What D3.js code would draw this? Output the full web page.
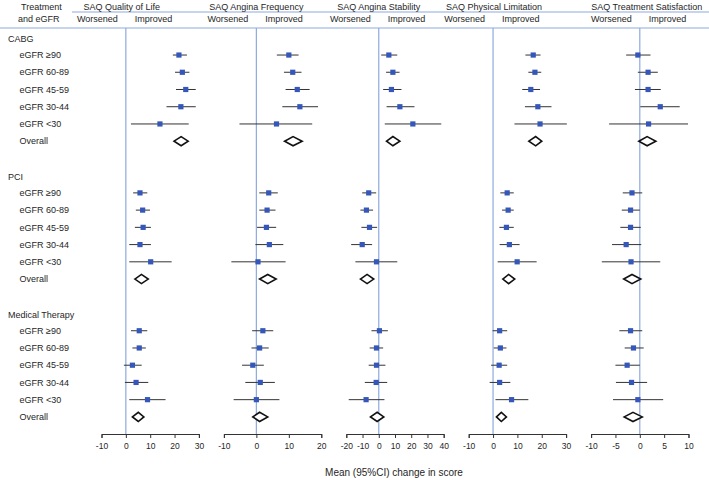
<!DOCTYPE html>
<html>
<head>
<meta charset="utf-8">
<script src="https://cdn.jsdelivr.net/npm/d3@7"></script>
<style>
	body { margin: 0; background: #fff; }
	svg text { font-family: 'Liberation Sans', Arial, sans-serif; fill: #262626; }
</style>
</head>
<body>
<svg id="chart" width="709" height="480"></svg>
<script>
// rows, top to bottom
const groups = ['CABG', 'PCI', 'Medical Therapy'];
const subRows = ['eGFR ≥90', 'eGFR 60-89', 'eGFR 45-59', 'eGFR 30-44', 'eGFR <30', 'Overall'];

const outcomes = [
	'SAQ Quality of Life',
	'SAQ Angina Frequency',
	'SAQ Angina Stability',
	'SAQ Physical Limitation',
	'SAQ Treatment Satisfaction',
];
const domains = [[-10, 30], [-10, 20], [-20, 40], [-10, 30], [-10, 10]];
const tickValues = [
	[-10, 0, 10, 20, 30],
	[-10, 0, 10, 20],
	[-20, -10, 0, 10, 20, 30, 40],
	[-10, 0, 10, 20, 30],
	[-10, -5, 0, 5, 10],
];

// [mean, lower, upper] : CABG x6, PCI x6, Medical Therapy x6 (last of each = Overall)
const qualityOfLife = [
	[21.8, 19.3, 25.1], [23.2, 20.2, 26.1], [24.6, 20.6, 28.7], [22.6, 16.7, 28.7], [14, 2.1, 25.8], [22.7, 19.8, 25.6],
	[5.8, 3, 8.8], [6.9, 4.1, 9.9], [7.1, 3.7, 10.3], [5.8, 1.4, 10.3], [10.2, 1.4, 18.8], [6.4, 3.7, 9.2],
	[5.5, 2.1, 8.8], [5.5, 2.7, 8.2], [2.7, -0.8, 6.5], [4.2, -0.4, 9.2], [8.9, 1.4, 16.3], [5.1, 2.7, 7.4],
];
const anginaFrequency = [
	[10, 6.3, 13], [11.2, 8.5, 13.9], [12.6, 9, 16.4], [13.4, 8, 19], [6.2, -5.2, 17.2], [11.3, 8.7, 14.1],
	[3.8, 0.9, 6.6], [3.3, 0.9, 5.9], [3.1, 0.2, 6.1], [4, -0.3, 8.3], [0.5, -7.7, 9], [3.5, 1, 6.1],
	[2, -1.3, 5.2], [1, -1.5, 3.8], [-1.1, -4.4, 2.3], [1.2, -3.4, 5.7], [0, -7, 7.1], [1, -1.1, 3.5],
];
const anginaStability = [
	[6.2, 1.5, 11.4], [8.7, 4.5, 12.8], [7.8, 2.7, 14], [13, 4.8, 22], [21, 3.7, 38.5], [8.7, 4.8, 13],
	[-6.2, -10.2, -1.6], [-7.6, -11.3, -3.5], [-5.7, -10.7, -1], [-10.2, -17, -4.1], [-1.4, -14.4, 11.4], [-7.2, -11.3, -3.1],
	[0.4, -4.5, 5.6], [-1.4, -5.6, 2.7], [-1.4, -6.2, 4.1], [-1.6, -8.6, 5.2], [-7.8, -18.5, 3.5], [-1, -5.1, 3.1],
];
const physicalLimitation = [
	[16.5, 13.3, 19.5], [17.2, 14.5, 19.8], [15.5, 12, 19.3], [18.4, 13.1, 24], [19.3, 8.8, 30.3], [17.5, 14.7, 20],
	[5.8, 3, 8.5], [6.2, 3.7, 8.5], [5.5, 2.6, 8.5], [6.7, 2.7, 10.9], [9.9, 1.9, 17.9], [6.4, 4, 8.9],
	[2.7, -0.2, 5.8], [3, 0.3, 5.5], [2.5, -0.8, 5.8], [2.7, -1.4, 7.1], [7.6, 1, 14.5], [3.4, 1.4, 5.5],
];
const treatmentSatisfaction = [
	[-0.4, -2.8, 2.2], [1.7, -0.4, 3.7], [1.7, -1, 4.3], [4.2, 0.1, 8.2], [1.8, -6.3, 9.9], [1.5, -0.2, 3.3],
	[-1.6, -3.5, 0.5], [-1.9, -3.7, 0], [-1.9, -4, 0.2], [-2.8, -5.7, 0.3], [-1.8, -7.8, 4.2], [-1.6, -3.3, 0.2],
	[-1.9, -4.2, 0.5], [-1.3, -3.1, 0.8], [-2.6, -5, 0], [-1.7, -4.9, 1.5], [-0.4, -5.5, 4.8], [-1.4, -3.2, 0.5],
];
const series = [qualityOfLife, anginaFrequency, anginaStability, physicalLimitation, treatmentSatisfaction];

const colors = {
	ref: '#8ea9de',
	square: '#3557b9',
	ci: '#333',
	text: '#262626',
};

const svg = d3.select('#chart');
const W = 709;

// row layout: header, 5 eGFR rows, overall, blank
const rowY = d3.scaleLinear().domain([0, 22]).range([37.8, 416.9]);
const rows = [];
groups.forEach((g, gi) => {
	rows.push({ label: g, idx: gi * 8, header: true });
	subRows.forEach((s, si) => {
		rows.push({ label: s, idx: gi * 8 + 1 + si, header: false, k: gi * 6 + si, overall: si == 5 });
	});
});

const panelLeft = 101.5;
const panelStep = 122.4;
const panelW = 97.4;
const axisY = 434;
const titleShift = [-4, 0, 0, 1, 7];

// header lines
svg.append('line')
	.attr('x1', 72).attr('x2', W)
	.attr('y1', 12).attr('y2', 12)
	.attr('stroke', colors.ref).attr('stroke-width', 1);
svg.append('line')
	.attr('x1', 0).attr('x2', W)
	.attr('y1', 28).attr('y2', 28)
	.attr('stroke', colors.ref).attr('stroke-width', 1);

svg.append('text')
	.attr('x', 21).attr('y', 9.5)
	.attr('font-size', '9px')
	.text('Treatment');
svg.append('text')
	.attr('x', 18).attr('y', 21.5)
	.attr('font-size', '9px')
	.text('and eGFR');

// row labels
svg.selectAll('text.row')
	.data(rows)
	.join('text')
	.attr('class', 'row')
	.attr('x', d => d.header ? 8 : 19.5)
	.attr('y', d => rowY(d.idx) + (d.header ? 1.5 : 0))
	.attr('dy', '0.35em')
	.attr('font-size', '9px')
	.text(d => d.label);

series.forEach((vals, p) => {
	const x = d3.scaleLinear()
		.domain(domains[p])
		.range([panelLeft + p * panelStep, panelLeft + p * panelStep + panelW]);
	const g = svg.append('g');
	const x0 = x(0);

	g.append('text')
		.attr('x', x0 + titleShift[p]).attr('y', 9.5)
		.attr('text-anchor', 'middle')
		.attr('font-size', '9px')
		.text(outcomes[p]);
	g.append('text')
		.attr('x', x0 - 8).attr('y', 21.5)
		.attr('text-anchor', 'end')
		.attr('font-size', '9px')
		.text('Worsened');
	g.append('text')
		.attr('x', x0 + 9).attr('y', 21.5)
		.attr('font-size', '9px')
		.text('Improved');

	// zero reference line
	g.append('line')
		.attr('x1', x0).attr('x2', x0)
		.attr('y1', 28).attr('y2', axisY)
		.attr('stroke', colors.ref).attr('stroke-width', 1.2);

	const axis = g.append('g')
		.attr('transform', `translate(0,${axisY})`)
		.call(d3.axisBottom(x)
			.tickValues(tickValues[p])
			.tickFormat(d => String(d))
			.tickSize(4)
			.tickPadding(5));
	axis.select('.domain').attr('stroke', '#333');
	axis.selectAll('.tick line').attr('stroke', '#333');
	axis.selectAll('.tick text')
		.attr('font-size', '8.5px')
		.attr('font-family', "'Liberation Sans', Arial, sans-serif")
		.attr('fill', colors.text);

	const pts = rows.filter(r => !r.header && !r.overall);
	const ov = rows.filter(r => r.overall);

	g.selectAll('line.ci')
		.data(pts)
		.join('line')
		.attr('class', 'ci')
		.attr('x1', d => x(vals[d.k][1]))
		.attr('x2', d => x(vals[d.k][2]))
		.attr('y1', d => rowY(d.idx))
		.attr('y2', d => rowY(d.idx))
		.attr('stroke', colors.ci)
		.attr('stroke-width', 1);

	g.selectAll('rect.est')
		.data(pts)
		.join('rect')
		.attr('class', 'est')
		.attr('x', d => x(vals[d.k][0]) - 2.6)
		.attr('y', d => rowY(d.idx) - 2.6)
		.attr('width', 5.2)
		.attr('height', 5.2)
		.attr('fill', colors.square);

	g.selectAll('path.overall')
		.data(ov)
		.join('path')
		.attr('class', 'overall')
		.attr('d', d => {
			const y = rowY(d.idx);
			const v = vals[d.k];
			return `M${x(v[1])},${y} L${x(v[0])},${y - 4.6} L${x(v[2])},${y} L${x(v[0])},${y + 4.6} Z`;
		})
		.attr('fill', '#fff')
		.attr('stroke', '#111')
		.attr('stroke-width', 1.6);
});

svg.append('text')
	.attr('x', 394).attr('y', 475.5)
	.attr('text-anchor', 'middle')
	.attr('font-size', '10px')
	.text('Mean (95%CI) change in score');
</script>
</body>
</html>
